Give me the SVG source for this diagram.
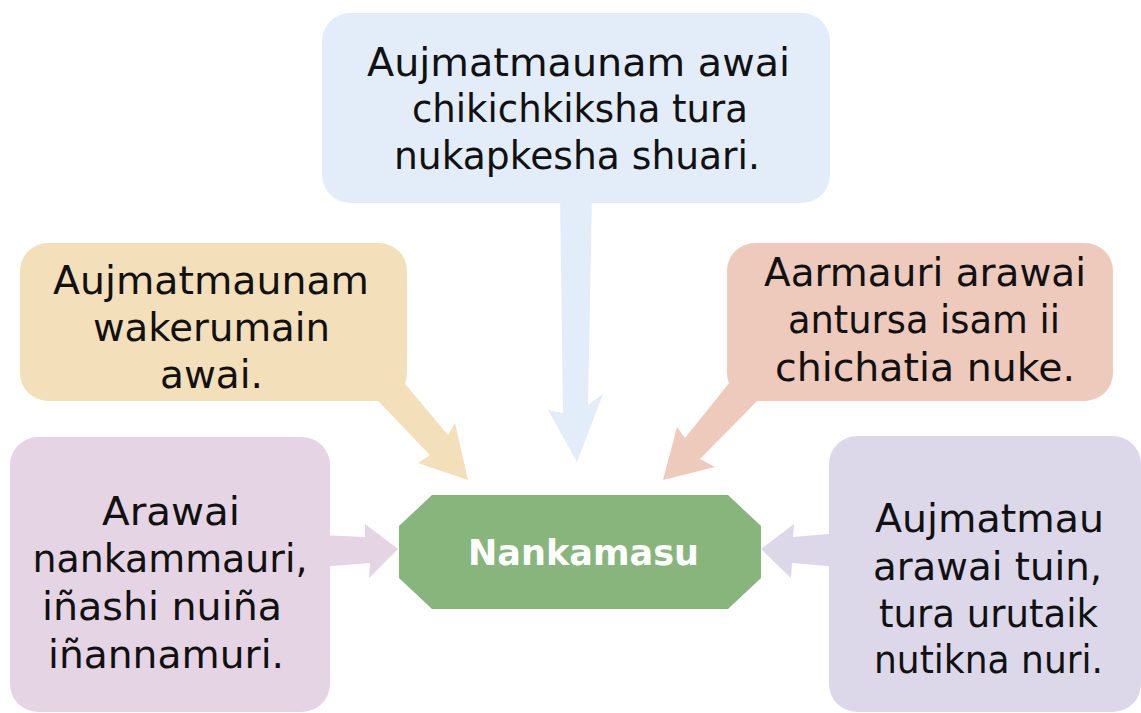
<svg xmlns="http://www.w3.org/2000/svg" width="1141" height="713" viewBox="0 0 1141 713">
<style>
.t{font-family:"DejaVu Sans","Liberation Sans",sans-serif;font-size:39px;fill:#111;text-anchor:middle}
.c{font-family:"DejaVu Sans","Liberation Sans",sans-serif;font-size:36px;font-weight:bold;fill:#fff;text-anchor:middle}
.blue{fill:#e3edf9}.orange{fill:#f3dfba}.salmon{fill:#eecabc}.pink{fill:#e5d5e4}.lav{fill:#dcd8ea}.green{fill:#88b57c}
</style>
<rect width="1141" height="713" fill="#fff"/>
<g id="connectors">
<polygon class="blue" points="560,195 592,195 588,405 603,394 577,462 548,410 563,413"/>
<polygon class="orange" points="390,366 448,435 455,423 468,480 418,463 430,455 359,381"/>
<polygon class="salmon" points="738,372 767,391 700,459 715,467 663,480 677,427 685,438"/>
<polygon class="pink" points="320,535 365,537 365,524 398,549 369,578 370,563 320,567"/>
<polygon class="lav" points="840,533 793,537 794,524 761,549 791,578 792,563 840,567"/>
</g>
<g id="node-top">
<rect class="blue" x="322" y="13" width="508" height="190" rx="28"/>
<text class="t" x="578.5" y="76" textLength="423" lengthAdjust="spacingAndGlyphs">Aujmatmaunam awai</text>
<text class="t" x="580" y="122" textLength="336" lengthAdjust="spacingAndGlyphs">chikichkiksha tura</text>
<text class="t" x="577" y="169" textLength="366" lengthAdjust="spacingAndGlyphs">nukapkesha shuari.</text>
</g>
<g id="node-topleft">
<rect class="orange" x="20" y="243" width="387" height="158" rx="28"/>
<text class="t" x="211" y="294" textLength="316" lengthAdjust="spacingAndGlyphs">Aujmatmaunam</text>
<text class="t" x="211.5" y="341" textLength="237" lengthAdjust="spacingAndGlyphs">wakerumain</text>
<text class="t" x="211.5" y="388" textLength="103" lengthAdjust="spacingAndGlyphs">awai.</text>
</g>
<g id="node-topright">
<rect class="salmon" x="727" y="243" width="386" height="158" rx="28"/>
<text class="t" x="925" y="286" textLength="322" lengthAdjust="spacingAndGlyphs">Aarmauri arawai</text>
<text class="t" x="924" y="333" textLength="272" lengthAdjust="spacingAndGlyphs">antursa isam ii</text>
<text class="t" x="925" y="381" textLength="300" lengthAdjust="spacingAndGlyphs">chichatia nuke.</text>
</g>
<g id="node-left">
<rect class="pink" x="10" y="437" width="320" height="275" rx="28"/>
<text class="t" x="171" y="525" textLength="138" lengthAdjust="spacingAndGlyphs">Arawai</text>
<text class="t" x="170" y="572" textLength="275" lengthAdjust="spacingAndGlyphs">nankammauri,</text>
<text class="t" x="162" y="620" textLength="240" lengthAdjust="spacingAndGlyphs">iñashi nuiña</text>
<text class="t" x="166" y="668" textLength="236" lengthAdjust="spacingAndGlyphs">iñannamuri.</text>
</g>
<g id="node-right">
<rect class="lav" x="829" y="436" width="312" height="276" rx="28"/>
<text class="t" x="989.5" y="532" textLength="229" lengthAdjust="spacingAndGlyphs">Aujmatmau</text>
<text class="t" x="987.5" y="580" textLength="229" lengthAdjust="spacingAndGlyphs">arawai tuin,</text>
<text class="t" x="988.5" y="627" textLength="219" lengthAdjust="spacingAndGlyphs">tura urutaik</text>
<text class="t" x="988.5" y="673" textLength="229" lengthAdjust="spacingAndGlyphs">nutikna nuri.</text>
</g>
<g id="node-center">
<polygon class="green" points="432,495 728,495 761,526 761,578 728,609 432,609 399,578 399,526"/>
<text class="c" x="583.5" y="565" textLength="231" lengthAdjust="spacingAndGlyphs">Nankamasu</text>
</g>
</svg>
